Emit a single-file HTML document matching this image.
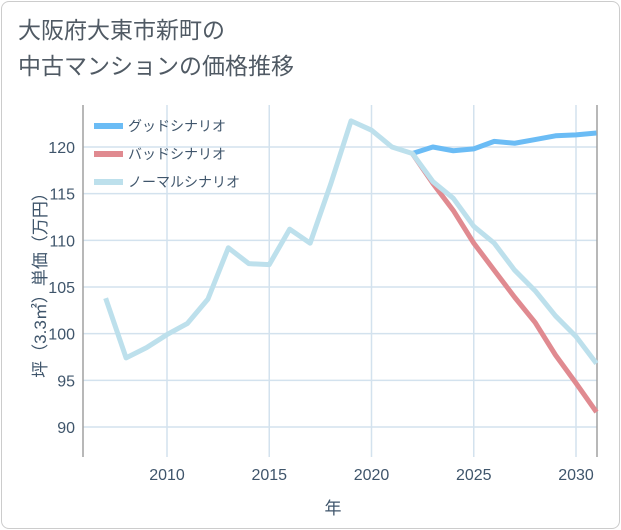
<!DOCTYPE html>
<html><head><meta charset="utf-8"><style>
body{margin:0;background:#fff;}
#c{position:relative;width:621px;height:530px;font-family:"Liberation Sans","Noto Sans CJK JP",sans-serif;}
.frame{position:absolute;left:1px;top:1px;width:617px;height:526px;border:1px solid #ccc;border-radius:8px;}
.title{position:absolute;left:18px;top:12px;font-size:23px;line-height:36px;color:#505a64;}
</style></head><body>
<div id="c">
<div class="frame"></div>
<div class="title">大阪府大東市新町の<br>中古マンションの価格推移</div>
<svg id="s" width="621" height="530" style="position:absolute;left:0;top:0"></svg>
</div>
<script>
const years=[2007,2008,2009,2010,2011,2012,2013,2014,2015,2016,2017,2018,2019,2020,2021,2022,2023,2024,2025,2026,2027,2028,2029,2030,2031];
const normal=[103.8,97.4,98.5,99.9,101.1,103.7,109.2,107.5,107.4,111.2,109.7,116,122.8,121.8,120,119.3,116.3,114.5,111.5,109.7,106.8,104.6,101.9,99.7,96.8];
const goodYears=[2022,2023,2024,2025,2026,2027,2028,2029,2030,2031];
const good=[119.3,120,119.6,119.8,120.6,120.4,120.8,121.2,121.3,121.5];
const bad=[119.3,116.1,113.2,109.7,106.8,103.9,101.2,97.7,94.7,91.6];
const xTicks=[2010,2015,2020,2025,2030];
const yTicks=[90,95,100,105,110,115,120];
const L=83,R=597,T=105,B=457;
const X=v=>167+(v-2010)*20.45;
const Y=v=>147+(120-v)*9.333;
const s=document.getElementById('s');
const NS='http://www.w3.org/2000/svg';
const TXT='#3f556b';
function mk(t,a,p){const e=document.createElementNS(NS,t);for(const k in a)e.setAttribute(k,a[k]);(p||s).appendChild(e);return e;}
yTicks.forEach(v=>{
 const l=mk('line',{x1:L,x2:R,y1:Y(v),y2:Y(v),stroke:'#d3e2ee','stroke-width':1.5});
 
 
 const t=mk('text',{x:L-8,y:Y(v)+6,'text-anchor':'end','font-size':16,fill:TXT});t.textContent=v;
 
 
});
xTicks.forEach(v=>{
 const l=mk('line',{x1:X(v),x2:X(v),y1:T,y2:B,stroke:'#d3e2ee','stroke-width':1.5});
 
 
 const t=mk('text',{x:X(v),y:B+23,'text-anchor':'middle','font-size':16,fill:TXT});t.textContent=v;
 
 
});
const ax=mk('path',{d:`M${L},${T}V${B}M${R},${T}V${B}`,stroke:'#a0a0a0','stroke-width':1.5,fill:'none'});


function line(xs,vs,color,name){
 const p=mk('polyline',{points:xs.map((x,i)=>X(x)+','+Y(vs[i])).join(' '),fill:'none',stroke:color,'stroke-width':5,'stroke-linejoin':'round'});
 
 
}
line(goodYears,good,'#6bbcf5','good-scenario-line');
line(goodYears,bad,'#e08a90','bad-scenario-line');
line(years,normal,'#bde0ec','normal-scenario-line');
const leg=[['グッドシナリオ','#6bbcf5'],['バッドシナリオ','#e08a90'],['ノーマルシナリオ','#bde0ec']];
leg.forEach((d,i)=>{
 const y=126+i*28;
 const g=mk('g',{});
 
 
 mk('line',{x1:94,x2:123,y1:y,y2:y,stroke:d[1],'stroke-width':6},g);
 const t=mk('text',{x:128,y:y+5,'font-size':14,fill:TXT},g);t.textContent=d[0];
});
const yl=mk('text',{x:0,y:0,transform:'translate(46,281) rotate(-90)','text-anchor':'middle','font-size':17,fill:TXT});
yl.textContent='坪（3.3㎡）単価（万円）';


const xl=mk('text',{x:333,y:514,'text-anchor':'middle','font-size':17,fill:TXT});
xl.textContent='年';


</script>
</body></html>
